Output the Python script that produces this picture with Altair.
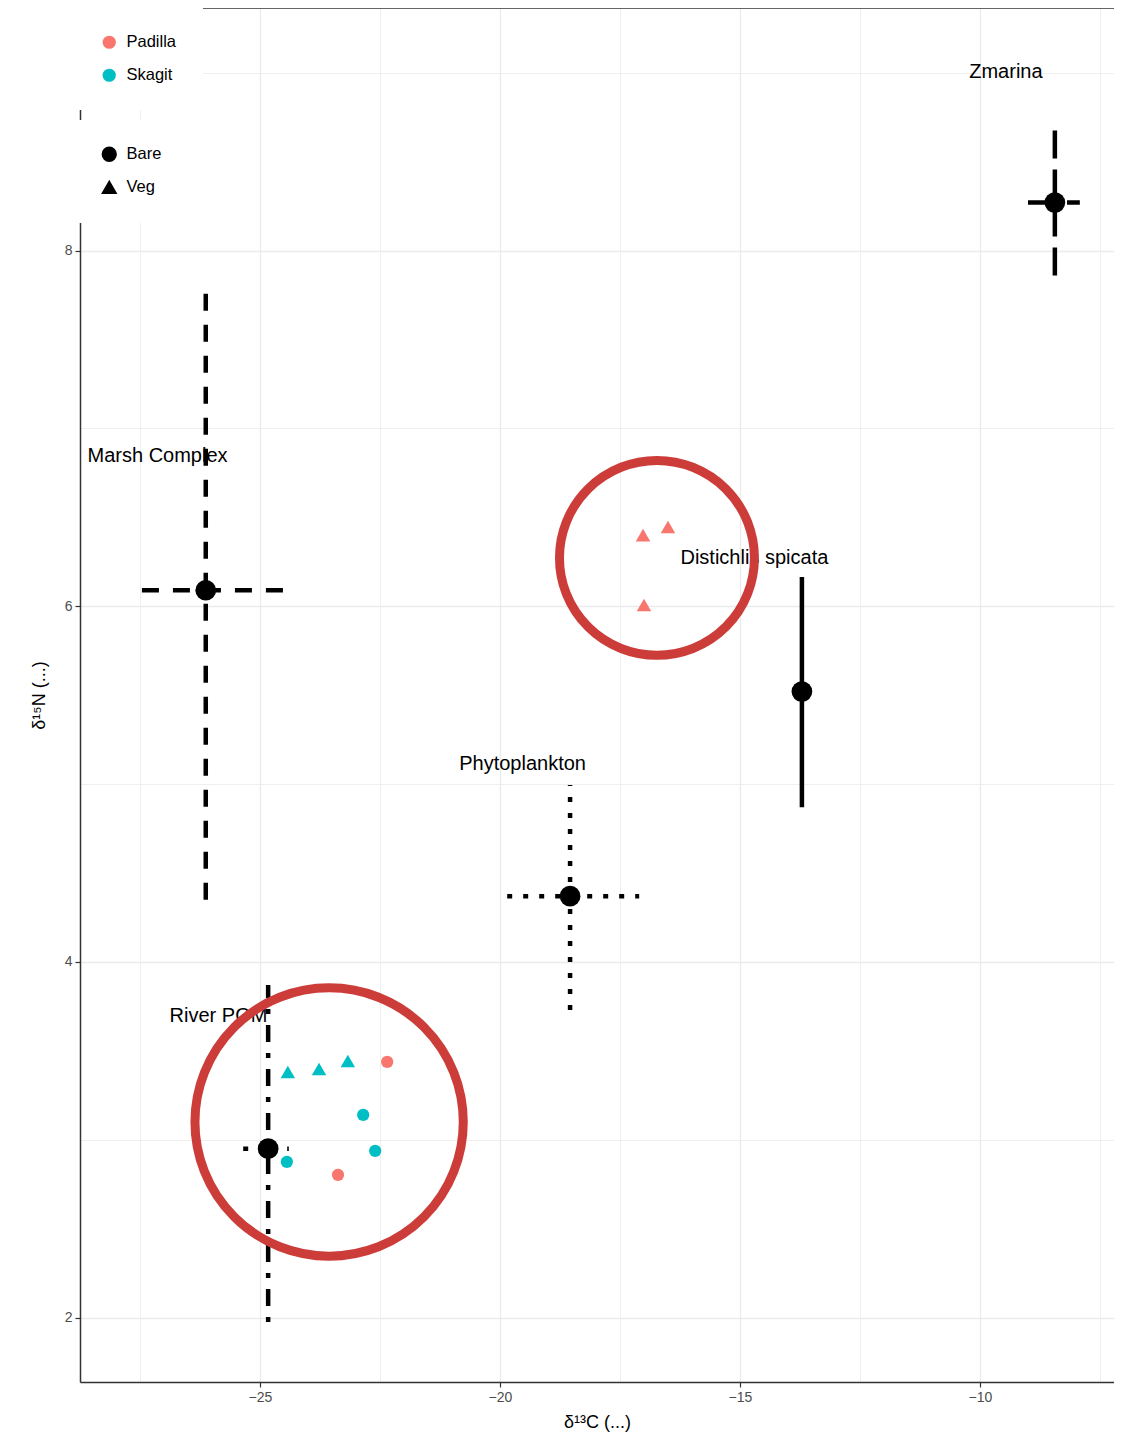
import altair as alt
import pandas as pd

# ---- source means (black points with error bars) ----
src_names = ["Marsh Complex", "Distichlis spicata", "Phytoplankton", "River POM", "Zmarina"]
src_x = [-26.13, -13.71, -18.54, -24.83, -8.44]
src_y = [6.09, 5.52, 4.37, 2.95, 8.27]
src_xmin = [-27.46, -13.71, -19.85, -25.35, -9.00]
src_xmax = [-24.52, -13.71, -17.10, -24.40, -7.92]
src_ymin = [4.35, 4.87, 3.73, 1.975, 7.86]
src_ymax = [7.78, 6.165, 4.995, 3.87, 8.675]
label_x = [-27.135, -14.70, -19.53, -25.865, -9.46]
label_y = [6.845, 6.272, 5.113, 3.696, 9.004]

# ---- consumer samples ----
smp_site = ["Padilla", "Padilla", "Padilla", "Skagit", "Skagit", "Skagit",
            "Padilla", "Padilla", "Skagit", "Skagit", "Skagit"]
smp_habitat = ["Veg", "Veg", "Veg", "Veg", "Veg", "Veg",
               "Bare", "Bare", "Bare", "Bare", "Bare"]
smp_d13C = [-17.02, -16.50, -17.00, -24.42, -23.77, -23.17,
            -22.35, -23.375, -22.85, -22.60, -24.44]
smp_d15N = [6.40, 6.446, 6.007, 3.381, 3.398, 3.443,
            3.438, 2.803, 3.14, 2.938, 2.876]

# ---- annotation circles (centres) ----
ann_x = [-16.73, -23.56]
ann_y = [6.272, 3.10]

# ---- axis ticks ----
x_ticks = [-27.5, -25, -22.5, -20, -17.5, -15, -12.5, -10, -7.5]
y_ticks = [2, 3, 4, 5, 6, 7, 8, 9]

site_domain = ["Padilla", "Skagit"]
habitat_domain = ["Bare", "Veg"]

src_df = pd.DataFrame({"source": src_names, "x": src_x, "y": src_y,
                       "xmin": src_xmin, "xmax": src_xmax,
                       "ymin": src_ymin, "ymax": src_ymax,
                       "lx": label_x, "ly": label_y})
smp_df = pd.DataFrame({"site": smp_site, "habitat": smp_habitat,
                       "d13C": smp_d13C, "d15N": smp_d15N})
ann_df = pd.DataFrame({"x": ann_x, "y": ann_y})

FONT = "Liberation Sans"
W, H = 1034, 1374

x_scale = alt.Scale(domain=[-28.75, -7.208], nice=False, zero=False)
y_scale = alt.Scale(domain=[1.638, 9.364], nice=False, zero=False)

x_title = "δ¹³C (...)"
y_title = "δ¹⁵N (...)"

x_axis = alt.Axis(
    values=x_ticks,
    labelExpr="datum.value % 5 == 0 ? datum.label : ''",
    tickOpacity={"condition": {"test": "datum.value % 5 != 0", "value": 0}, "value": 1},
    gridWidth={"condition": {"test": "datum.value % 5 != 0", "value": 0.8}, "value": 1.4},
    gridColor="#EBEBEB",
    domainColor="#333333", domainWidth=1.5,
    tickColor="#333333", tickSize=5, tickWidth=1.2,
    labelFont=FONT, labelFontSize=14, labelColor="#4D4D4D", labelPadding=3,
    titleFont=FONT, titleFontSize=18, titleFontWeight="normal", titleColor="black",
    titlePadding=9,
)
y_axis = alt.Axis(
    values=y_ticks,
    labelExpr="datum.value % 2 == 0 ? datum.label : ''",
    tickOpacity={"condition": {"test": "datum.value % 2 != 0", "value": 0}, "value": 1},
    gridWidth={"condition": {"test": "datum.value % 2 != 0", "value": 0.8}, "value": 1.4},
    gridColor="#EBEBEB",
    domainColor="#333333", domainWidth=1.5,
    tickColor="#333333", tickSize=5, tickWidth=1.2,
    labelFont=FONT, labelFontSize=14, labelColor="#4D4D4D", labelPadding=3,
    titleFont=FONT, titleFontSize=18, titleFontWeight="normal", titleColor="black",
    titlePadding=16,
)


def X(field):
    return alt.X(f"{field}:Q", scale=x_scale, axis=x_axis, title=x_title)


def Y(field):
    return alt.Y(f"{field}:Q", scale=y_scale, axis=y_axis, title=y_title)


dash_enc = alt.StrokeDash(
    "source:N",
    scale=alt.Scale(domain=src_names,
                    range=[[17, 14], [1, 0], [5, 11], [5, 11, 17, 11], [28, 11]]),
    legend=None,
)

h_rules = alt.Chart(src_df).mark_rule(color="black", strokeWidth=4.5).encode(
    x=X("xmin"), x2="xmax:Q", y=Y("y"), strokeDash=dash_enc)
v_rules = alt.Chart(src_df).mark_rule(color="black", strokeWidth=4.5).encode(
    x=X("x"), y=Y("ymin"), y2="ymax:Q", strokeDash=dash_enc)
src_pts = alt.Chart(src_df).mark_circle(color="black", size=430, opacity=1).encode(
    x=X("x"), y=Y("y"))
src_lbl = alt.Chart(src_df).mark_text(
    font=FONT, fontSize=20, color="black", align="center", baseline="middle"
).encode(x=X("lx"), y=Y("ly"), text="source:N")

color_enc = alt.Color(
    "site:N",
    scale=alt.Scale(domain=site_domain, range=["#F8766D", "#00BFC4"]),
    legend=alt.Legend(title=None, orient="none", legendX=-5, legendY=0, padding=26,
                      fillColor="white", symbolType="circle", symbolSize=175,
                      symbolOpacity=1, labelFont=FONT, labelFontSize=16.5,
                      labelColor="black", rowPadding=16, labelOffset=9),
)
shape_enc = alt.Shape(
    "habitat:N",
    scale=alt.Scale(domain=habitat_domain, range=["circle", "triangle-up"]),
    legend=alt.Legend(title=None, orient="none", legendX=-5, legendY=112, padding=26,
                      fillColor="white", symbolFillColor="black",
                      symbolStrokeColor="black", symbolSize=190, symbolOpacity=1,
                      labelFont=FONT, labelFontSize=16.5, labelColor="black",
                      rowPadding=13, labelOffset=9),
)

bare_pts = alt.Chart(smp_df).transform_filter(
    alt.datum.habitat == "Bare"
).mark_point(filled=True, size=150, opacity=1).encode(
    x=X("d13C"), y=Y("d15N"), color=color_enc, shape=shape_enc)
veg_pts = alt.Chart(smp_df).transform_filter(
    alt.datum.habitat == "Veg"
).mark_point(filled=True, size=210, opacity=1).encode(
    x=X("d13C"), y=Y("d15N"), color=color_enc, shape=shape_enc)

ann1 = alt.Chart(ann_df.iloc[[0]]).mark_point(
    shape="circle", filled=False, size=38000, strokeWidth=9,
    color="#CC3D3A", opacity=1
).encode(x=X("x"), y=Y("y"))
ann2 = alt.Chart(ann_df.iloc[[1]]).mark_point(
    shape="circle", filled=False, size=72000, strokeWidth=9,
    color="#CC3D3A", opacity=1
).encode(x=X("x"), y=Y("y"))

top_line = alt.Chart(pd.DataFrame({"k": [0]})).mark_rule(
    color="#333333", strokeWidth=1.5
).encode(x=alt.value(0), x2=alt.value(W), y=alt.value(0))

chart = alt.layer(
    top_line, h_rules, v_rules, src_pts, src_lbl, bare_pts, veg_pts, ann1, ann2
).properties(
    width=W, height=H,
    padding={"left": 72, "top": 0, "right": 0, "bottom": 50},
    autosize=alt.AutoSizeParams(type="none"),
).configure(font=FONT).configure_view(stroke="transparent")

chart.save("out.html", embed_options={"renderer": "svg", "actions": False})
